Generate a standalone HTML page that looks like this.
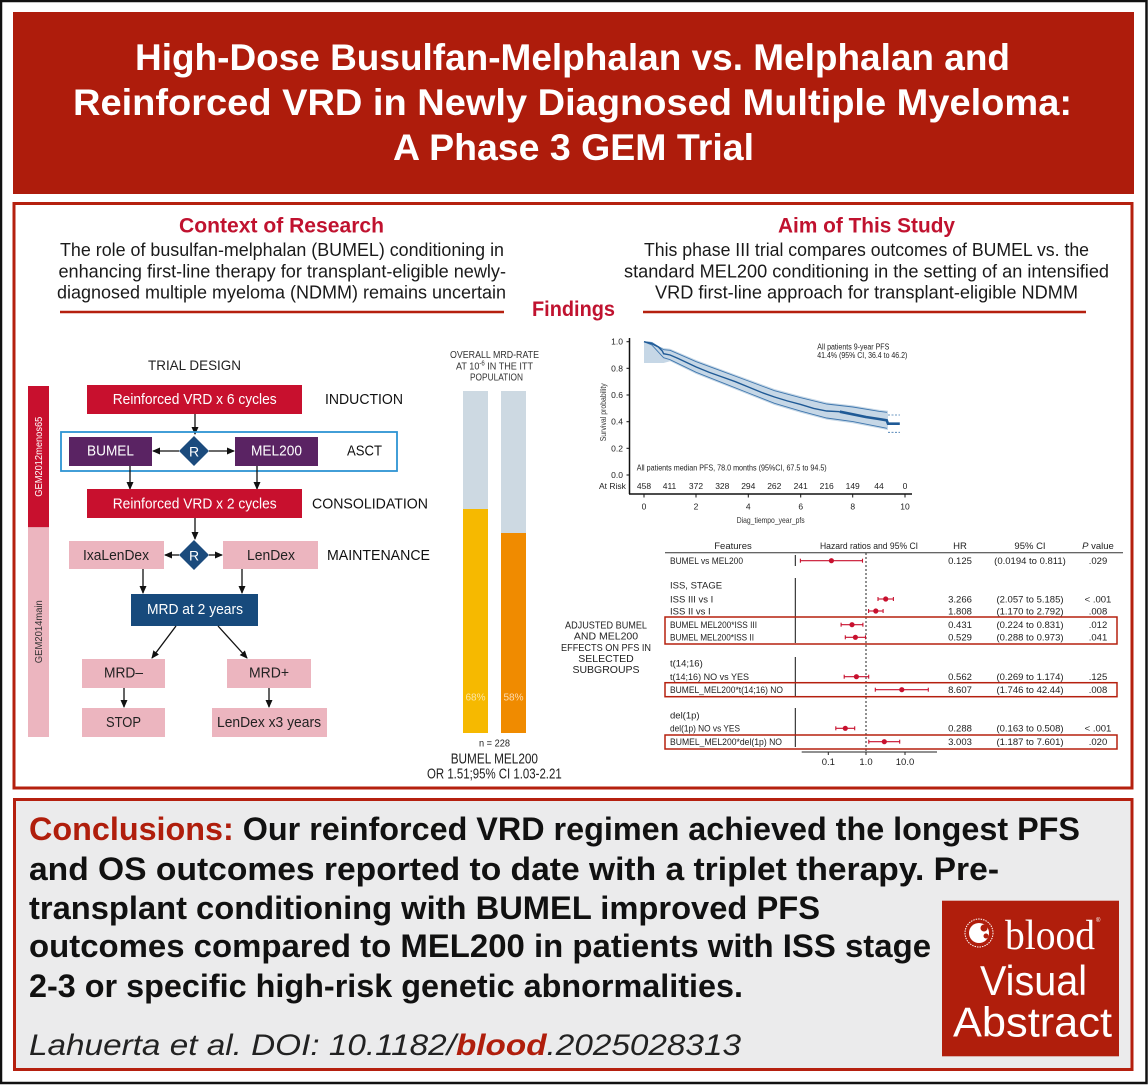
<!DOCTYPE html>
<html><head><meta charset="utf-8"><style>
html,body{margin:0;padding:0;background:#fff;}
svg{display:block;}
text{font-family:"Liberation Sans",sans-serif;}
</style></head><body>
<svg width="1148" height="1085" viewBox="0 0 1148 1085" xmlns="http://www.w3.org/2000/svg">
<rect x="0" y="0" width="1148" height="1085" fill="#fff"/>
<rect x="1" y="1" width="1145.5" height="1082" fill="none" stroke="#111" stroke-width="2.5"/>

<!-- Header -->
<rect x="13" y="12" width="1121" height="182" fill="#ae1c0c"/>
<g fill="#fff" font-weight="bold" font-size="37" lengthAdjust="spacingAndGlyphs">
<text x="135" y="70" textLength="875" lengthAdjust="spacingAndGlyphs">High-Dose Busulfan-Melphalan vs. Melphalan and</text>
<text x="73" y="115" textLength="999" lengthAdjust="spacingAndGlyphs">Reinforced VRD in Newly Diagnosed Multiple Myeloma:</text>
<text x="393" y="160" textLength="361" lengthAdjust="spacingAndGlyphs">A Phase 3 GEM Trial</text>
</g>

<!-- Findings box -->
<rect x="14" y="203.5" width="1118" height="584.5" fill="none" stroke="#b5200f" stroke-width="3"/>

<text x="179" y="232.7" font-size="21" font-weight="bold" fill="#c0122f" textLength="205" lengthAdjust="spacingAndGlyphs">Context of Research</text>
<text x="778" y="232.7" font-size="21" font-weight="bold" fill="#c0122f" textLength="177" lengthAdjust="spacingAndGlyphs">Aim of This Study</text>
<g font-size="18" fill="#1a1a1a">
<text x="60" y="256" textLength="444" lengthAdjust="spacingAndGlyphs">The role of busulfan-melphalan (BUMEL) conditioning in</text>
<text x="58.5" y="277.3" textLength="447.5" lengthAdjust="spacingAndGlyphs">enhancing first-line therapy for transplant-eligible newly-</text>
<text x="57" y="298.3" textLength="449" lengthAdjust="spacingAndGlyphs">diagnosed multiple myeloma (NDMM) remains uncertain</text>
<text x="644" y="256" textLength="445" lengthAdjust="spacingAndGlyphs">This phase III trial compares outcomes of BUMEL vs. the</text>
<text x="624" y="277.3" textLength="485" lengthAdjust="spacingAndGlyphs">standard MEL200 conditioning in the setting of an intensified</text>
<text x="655" y="298.3" textLength="423" lengthAdjust="spacingAndGlyphs">VRD first-line approach for transplant-eligible NDMM</text>
</g>
<text x="532" y="316" font-size="21" font-weight="bold" fill="#c0122f" textLength="83" lengthAdjust="spacingAndGlyphs">Findings</text>
<line x1="60" y1="312" x2="504" y2="312" stroke="#b5200f" stroke-width="2.5"/>
<line x1="643" y1="312" x2="1086" y2="312" stroke="#b5200f" stroke-width="2.5"/>

<!-- Trial design -->
<defs>
<marker id="ah" markerWidth="8" markerHeight="8" refX="7" refY="4" orient="auto" markerUnits="userSpaceOnUse">
<path d="M0,0.5 L8,4 L0,7.5 Z" fill="#111"/>
</marker>
</defs>
<text x="148" y="370" font-size="14" fill="#222" textLength="93" lengthAdjust="spacingAndGlyphs">TRIAL DESIGN</text>

<rect x="28" y="386" width="21" height="141.3" fill="#c8102e"/>
<rect x="28" y="527.3" width="21" height="209.7" fill="#ecb5bf"/>
<text transform="translate(42,456.7) rotate(-90)" text-anchor="middle" font-size="10" fill="#fff" textLength="80" lengthAdjust="spacingAndGlyphs">GEM2012menos65</text>
<text transform="translate(42,631.7) rotate(-90)" text-anchor="middle" font-size="10" fill="#333" textLength="63" lengthAdjust="spacingAndGlyphs">GEM2014main</text>

<rect x="87" y="385" width="215" height="29" fill="#c8102e"/>
<text x="112.7" y="404" font-size="15" fill="#fff" textLength="164" lengthAdjust="spacingAndGlyphs">Reinforced VRD x 6 cycles</text>
<text x="325" y="404" font-size="14.5" fill="#111" textLength="78" lengthAdjust="spacingAndGlyphs">INDUCTION</text>
<line x1="195" y1="414" x2="195" y2="434" stroke="#111" stroke-width="1.3" marker-end="url(#ah)"/>

<rect x="61" y="432" width="336" height="39" fill="none" stroke="#2e93d3" stroke-width="1.8"/>
<rect x="69" y="437" width="83" height="29" fill="#5a2363"/>
<text x="87" y="455.7" font-size="15" fill="#fff" textLength="47" lengthAdjust="spacingAndGlyphs">BUMEL</text>
<rect x="235" y="437" width="83" height="29" fill="#5a2363"/>
<text x="251" y="455.7" font-size="15" fill="#fff" textLength="51" lengthAdjust="spacingAndGlyphs">MEL200</text>
<line x1="179" y1="451" x2="153" y2="451" stroke="#111" stroke-width="1.3" marker-end="url(#ah)"/>
<line x1="209" y1="451" x2="234" y2="451" stroke="#111" stroke-width="1.3" marker-end="url(#ah)"/>
<path d="M194,436 L209,451 L194,466 L179,451 Z" fill="#1b4b7d"/>
<text x="194" y="456.5" text-anchor="middle" font-size="14" fill="#fff">R</text>
<text x="347" y="455.7" font-size="14.5" fill="#111" textLength="35" lengthAdjust="spacingAndGlyphs">ASCT</text>
<line x1="130" y1="466" x2="130" y2="489" stroke="#111" stroke-width="1.3" marker-end="url(#ah)"/>
<line x1="257" y1="466" x2="257" y2="489" stroke="#111" stroke-width="1.3" marker-end="url(#ah)"/>

<rect x="87" y="489" width="215" height="29" fill="#c8102e"/>
<text x="112.7" y="508.3" font-size="15" fill="#fff" textLength="164" lengthAdjust="spacingAndGlyphs">Reinforced VRD x 2 cycles</text>
<text x="312" y="508.3" font-size="14.5" fill="#111" textLength="116" lengthAdjust="spacingAndGlyphs">CONSOLIDATION</text>
<line x1="195" y1="518" x2="195" y2="539" stroke="#111" stroke-width="1.3" marker-end="url(#ah)"/>

<rect x="69" y="541" width="95" height="28" fill="#ecb5bf"/>
<text x="83" y="560" font-size="15" fill="#222" textLength="66" lengthAdjust="spacingAndGlyphs">IxaLenDex</text>
<rect x="223" y="541" width="95" height="28" fill="#ecb5bf"/>
<text x="247" y="560" font-size="15" fill="#222" textLength="48" lengthAdjust="spacingAndGlyphs">LenDex</text>
<line x1="179" y1="555" x2="165" y2="555" stroke="#111" stroke-width="1.3" marker-end="url(#ah)"/>
<line x1="209" y1="555" x2="222" y2="555" stroke="#111" stroke-width="1.3" marker-end="url(#ah)"/>
<path d="M194,540 L209,555 L194,570 L179,555 Z" fill="#1b4b7d"/>
<text x="194" y="560.5" text-anchor="middle" font-size="14" fill="#fff">R</text>
<text x="327" y="560" font-size="14.5" fill="#111" textLength="103" lengthAdjust="spacingAndGlyphs">MAINTENANCE</text>
<line x1="143" y1="569" x2="143" y2="593" stroke="#111" stroke-width="1.3" marker-end="url(#ah)"/>
<line x1="242" y1="569" x2="242" y2="593" stroke="#111" stroke-width="1.3" marker-end="url(#ah)"/>

<rect x="131" y="594" width="127" height="32" fill="#174a7c"/>
<text x="147" y="614" font-size="15" fill="#fff" textLength="96" lengthAdjust="spacingAndGlyphs">MRD at 2 years</text>
<line x1="176" y1="626" x2="152" y2="658" stroke="#111" stroke-width="1.3" marker-end="url(#ah)"/>
<line x1="218" y1="626" x2="247" y2="658" stroke="#111" stroke-width="1.3" marker-end="url(#ah)"/>

<rect x="82" y="659" width="83" height="29" fill="#ecb5bf"/>
<text x="104" y="677.7" font-size="15" fill="#222" textLength="39" lengthAdjust="spacingAndGlyphs">MRD–</text>
<rect x="227" y="659" width="84" height="29" fill="#ecb5bf"/>
<text x="249" y="677.7" font-size="15" fill="#222" textLength="40" lengthAdjust="spacingAndGlyphs">MRD+</text>
<line x1="124" y1="688" x2="124" y2="707" stroke="#111" stroke-width="1.3" marker-end="url(#ah)"/>
<line x1="269" y1="688" x2="269" y2="707" stroke="#111" stroke-width="1.3" marker-end="url(#ah)"/>
<rect x="82" y="708" width="83" height="29" fill="#ecb5bf"/>
<text x="106" y="727" font-size="15" fill="#222" textLength="35" lengthAdjust="spacingAndGlyphs">STOP</text>
<rect x="212" y="708" width="115" height="29" fill="#ecb5bf"/>
<text x="217" y="727" font-size="15" fill="#222" textLength="104" lengthAdjust="spacingAndGlyphs">LenDex x3 years</text>

<!-- MRD bars -->
<g font-size="10.5" fill="#333">
<text x="450" y="358" textLength="89" lengthAdjust="spacingAndGlyphs">OVERALL MRD-RATE</text>
<text x="456" y="369.3" textLength="77" lengthAdjust="spacingAndGlyphs">AT 10<tspan font-size="7" dy="-4">-6</tspan><tspan dy="4"> IN THE ITT</tspan></text>
<text x="470" y="380.7" textLength="53" lengthAdjust="spacingAndGlyphs">POPULATION</text>
</g>
<rect x="463" y="391" width="25" height="342" fill="#cdd9e2"/>
<rect x="463" y="509" width="25" height="224" fill="#f6b900"/>
<rect x="501" y="391" width="25" height="342" fill="#cdd9e2"/>
<rect x="501" y="533" width="25" height="200" fill="#f08b00"/>
<text x="475.5" y="700.7" text-anchor="middle" font-size="10" fill="#fde6a6">68%</text>
<text x="513.5" y="700.7" text-anchor="middle" font-size="10" fill="#fddcb0">58%</text>
<text x="479" y="746.7" font-size="10" fill="#222" textLength="31" lengthAdjust="spacingAndGlyphs">n = 228</text>
<text x="450.7" y="763.3" font-size="14.5" fill="#222" textLength="87.3" lengthAdjust="spacingAndGlyphs">BUMEL  MEL200</text>
<text x="427" y="778.3" font-size="14.5" fill="#222" textLength="134.7" lengthAdjust="spacingAndGlyphs">OR 1.51;95% CI 1.03-2.21</text>

<!-- KM plot -->
<polygon points="644,341.7 663.6,348 670.1,348.7 696.2,360 722.3,369.7 748.4,379.4 774.5,389 800.6,396 826.7,402.4 852.8,405.4 878.9,409.7 888,410.7 888,430 878.9,428.3 852.8,423.3 826.7,419.6 800.6,412.7 774.5,405 748.4,394.6 722.3,384.3 696.2,374 670.1,361.3 663.6,363 644,363" fill="#c6d7e6"/>
<polyline points="644,341.7 651.8,342.4 663.6,349.7 670.1,350.3 696.2,361.7 722.3,371.3 748.4,381 774.5,390.7 800.6,397.7 826.7,404 852.8,407 878.9,411.3 887,412.3" fill="none" stroke="#3f77ae" stroke-width="0.9"/>
<polyline points="644,341.7 651.8,345 663.6,357.7 670.1,359.7 696.2,372.3 722.3,382.7 748.4,393 774.5,403.3 800.6,411.1 826.7,418 852.8,421.6 878.9,426.7 887,428.3" fill="none" stroke="#3f77ae" stroke-width="0.9"/>
<line x1="888" y1="415" x2="900" y2="415" stroke="#3f77ae" stroke-width="0.8" stroke-dasharray="2,1.5"/>
<line x1="888" y1="432.3" x2="900" y2="432.3" stroke="#3f77ae" stroke-width="0.8" stroke-dasharray="2,1.5"/>
<polyline points="644,341.7 651.8,343.7 658.4,347 662.3,351 663.6,353.7 670.1,355 677.9,358.4 696.2,367 709.3,372.4 722.3,377 735.4,381.7 748.4,387 761.5,392.4 774.5,397 787.6,401 800.6,404.4 813.7,408.4 826.7,411 839.8,411.7" fill="none" stroke="#1f5a96" stroke-width="1.4"/>
<polyline points="839.8,411.7 852.8,414.3 865.9,417 878.9,419 886.7,420.3 888,423.7 899.8,423.7" fill="none" stroke="#1f5a96" stroke-width="2.6"/>
<line x1="629.5" y1="338" x2="629.5" y2="494" stroke="#111" stroke-width="1.5"/>
<line x1="629" y1="494" x2="912" y2="494" stroke="#111" stroke-width="1.5"/>
<g stroke="#111" stroke-width="1">
<line x1="626.5" y1="341.7" x2="629.5" y2="341.7"/><line x1="626.5" y1="368.3" x2="629.5" y2="368.3"/>
<line x1="626.5" y1="395" x2="629.5" y2="395"/><line x1="626.5" y1="421.7" x2="629.5" y2="421.7"/>
<line x1="626.5" y1="448.3" x2="629.5" y2="448.3"/><line x1="626.5" y1="475" x2="629.5" y2="475"/>
<line x1="644" y1="494" x2="644" y2="497.5"/><line x1="696" y1="494" x2="696" y2="497.5"/>
<line x1="748.3" y1="494" x2="748.3" y2="497.5"/><line x1="800.7" y1="494" x2="800.7" y2="497.5"/>
<line x1="852.7" y1="494" x2="852.7" y2="497.5"/><line x1="905" y1="494" x2="905" y2="497.5"/>
</g>
<g font-size="8.5" fill="#222" text-anchor="end">
<text x="623" y="344.7">1.0</text><text x="623" y="371.3">0.8</text><text x="623" y="398">0.6</text>
<text x="623" y="424.7">0.4</text><text x="623" y="451.3">0.2</text><text x="623" y="478">0.0</text>
</g>
<g font-size="8.5" fill="#222" text-anchor="middle">
<text x="644" y="509.7">0</text><text x="696" y="509.7">2</text><text x="748.3" y="509.7">4</text>
<text x="800.7" y="509.7">6</text><text x="852.7" y="509.7">8</text><text x="905" y="509.7">10</text>
<text x="644" y="489">458</text><text x="669.5" y="489">411</text><text x="696" y="489">372</text>
<text x="722.3" y="489">328</text><text x="748.3" y="489">294</text><text x="774.3" y="489">262</text>
<text x="800.7" y="489">241</text><text x="826.7" y="489">216</text><text x="852.7" y="489">149</text>
<text x="879" y="489">44</text><text x="905" y="489">0</text>
</g>
<text x="599" y="489" font-size="8.5" fill="#222">At Risk</text>
<text x="736.7" y="523" font-size="8.5" fill="#333" textLength="68" lengthAdjust="spacingAndGlyphs">Diag_tiempo_year_pfs</text>
<text transform="translate(606,412.3) rotate(-90)" text-anchor="middle" font-size="8.5" fill="#333" textLength="58" lengthAdjust="spacingAndGlyphs">Survival probability</text>
<text x="817.3" y="349.5" font-size="8" fill="#222" textLength="72" lengthAdjust="spacingAndGlyphs">All patients 9-year PFS</text>
<text x="817.3" y="358" font-size="8" fill="#222" textLength="90" lengthAdjust="spacingAndGlyphs">41.4% (95% CI, 36.4 to 46.2)</text>
<text x="636.7" y="470.5" font-size="8.5" fill="#222" textLength="190" lengthAdjust="spacingAndGlyphs">All patients median PFS, 78.0 months (95%CI, 67.5 to 94.5)</text>

<!-- Forest plot -->
<g font-size="9.5" fill="#222">
<text x="733" y="549" text-anchor="middle">Features</text>
<text x="820" y="549" textLength="98" lengthAdjust="spacingAndGlyphs">Hazard ratios and 95% CI</text>
<text x="960" y="549" text-anchor="middle">HR</text>
<text x="1030" y="549" text-anchor="middle">95% CI</text>
<text x="1098" y="549" text-anchor="middle"><tspan font-style="italic">P</tspan> value</text>
</g>
<line x1="665" y1="552.7" x2="1123" y2="552.7" stroke="#333" stroke-width="1"/>
<g stroke="#111" stroke-width="1">
<line x1="795.3" y1="555" x2="795.3" y2="566"/>
<line x1="795.3" y1="578" x2="795.3" y2="643"/>
<line x1="795.3" y1="657" x2="795.3" y2="696"/>
<line x1="795.3" y1="708" x2="795.3" y2="747"/>
</g>
<line x1="866" y1="553" x2="866" y2="752" stroke="#222" stroke-width="1" stroke-dasharray="2,2"/>
<line x1="801.7" y1="752" x2="937" y2="752" stroke="#222" stroke-width="1"/>
<g stroke="#222" stroke-width="1">
<line x1="828.3" y1="752" x2="828.3" y2="755"/><line x1="866" y1="752" x2="866" y2="755"/><line x1="905" y1="752" x2="905" y2="755"/>
</g>
<g font-size="9.5" fill="#222" text-anchor="middle">
<text x="828.3" y="765">0.1</text><text x="866" y="765">1.0</text><text x="905" y="765">10.0</text>
</g>
<g stroke="#b5200f" stroke-width="1.5" fill="none">
<rect x="665" y="617" width="452" height="27"/>
<rect x="665" y="682.7" width="452" height="14"/>
<rect x="665" y="735" width="452" height="14"/>
</g>
<g font-size="9.5" fill="#222">
<text x="670" y="564" textLength="73" lengthAdjust="spacingAndGlyphs">BUMEL vs MEL200</text>
<text x="670" y="588.3">ISS, STAGE</text>
<text x="670" y="602.3">ISS III vs I</text>
<text x="670" y="614.3">ISS II vs I</text>
<text x="670" y="628" textLength="87" lengthAdjust="spacingAndGlyphs">BUMEL MEL200*ISS III</text>
<text x="670" y="640.6" textLength="84" lengthAdjust="spacingAndGlyphs">BUMEL MEL200*ISS II</text>
<text x="670" y="666.6">t(14;16)</text>
<text x="670" y="680" textLength="79" lengthAdjust="spacingAndGlyphs">t(14;16) NO vs YES</text>
<text x="670" y="693" textLength="113" lengthAdjust="spacingAndGlyphs">BUMEL_MEL200*t(14;16) NO</text>
<text x="670" y="718.3">del(1p)</text>
<text x="670" y="731.6" textLength="70" lengthAdjust="spacingAndGlyphs">del(1p) NO vs YES</text>
<text x="670" y="745" textLength="112" lengthAdjust="spacingAndGlyphs">BUMEL_MEL200*del(1p) NO</text>
</g>
<g font-size="9.5" fill="#222" text-anchor="middle">
<text x="960" y="564">0.125</text><text x="1030" y="564">(0.0194 to 0.811)</text><text x="1098" y="564">.029</text>
<text x="960" y="602.3">3.266</text><text x="1030" y="602.3">(2.057 to 5.185)</text><text x="1098" y="602.3">&lt; .001</text>
<text x="960" y="614.3">1.808</text><text x="1030" y="614.3">(1.170 to 2.792)</text><text x="1098" y="614.3">.008</text>
<text x="960" y="628">0.431</text><text x="1030" y="628">(0.224 to 0.831)</text><text x="1098" y="628">.012</text>
<text x="960" y="640.6">0.529</text><text x="1030" y="640.6">(0.288 to 0.973)</text><text x="1098" y="640.6">.041</text>
<text x="960" y="680">0.562</text><text x="1030" y="680">(0.269 to 1.174)</text><text x="1098" y="680">.125</text>
<text x="960" y="693">8.607</text><text x="1030" y="693">(1.746 to 42.44)</text><text x="1098" y="693">.008</text>
<text x="960" y="731.6">0.288</text><text x="1030" y="731.6">(0.163 to 0.508)</text><text x="1098" y="731.6">&lt; .001</text>
<text x="960" y="745">3.003</text><text x="1030" y="745">(1.187 to 7.601)</text><text x="1098" y="745">.020</text>
</g>
<g stroke="#c8102e" stroke-width="1.1" fill="#c8102e">
<line x1="800.4" y1="560.7" x2="862.5" y2="560.7"/><line x1="800.4" y1="558.7" x2="800.4" y2="562.7"/><line x1="862.5" y1="558.7" x2="862.5" y2="562.7"/><circle cx="831.4" cy="560.7" r="2.6" stroke="none"/>
<line x1="878" y1="599" x2="893.4" y2="599"/><line x1="878" y1="597" x2="878" y2="601"/><line x1="893.4" y1="597" x2="893.4" y2="601"/><circle cx="885.7" cy="599" r="2.6" stroke="none"/>
<line x1="868.6" y1="611" x2="883.1" y2="611"/><line x1="868.6" y1="609" x2="868.6" y2="613"/><line x1="883.1" y1="609" x2="883.1" y2="613"/><circle cx="875.8" cy="611" r="2.6" stroke="none"/>
<line x1="841.1" y1="624.7" x2="862.9" y2="624.7"/><line x1="841.1" y1="622.7" x2="841.1" y2="626.7"/><line x1="862.9" y1="622.7" x2="862.9" y2="626.7"/><circle cx="852" cy="624.7" r="2.6" stroke="none"/>
<line x1="845.3" y1="637.3" x2="865.5" y2="637.3"/><line x1="845.3" y1="635.3" x2="845.3" y2="639.3"/><line x1="865.5" y1="635.3" x2="865.5" y2="639.3"/><circle cx="855.4" cy="637.3" r="2.6" stroke="none"/>
<line x1="844.2" y1="676.7" x2="868.7" y2="676.7"/><line x1="844.2" y1="674.7" x2="844.2" y2="678.7"/><line x1="868.7" y1="674.7" x2="868.7" y2="678.7"/><circle cx="856.4" cy="676.7" r="2.6" stroke="none"/>
<line x1="875.3" y1="689.7" x2="928.3" y2="689.7"/><line x1="875.3" y1="687.7" x2="875.3" y2="691.7"/><line x1="928.3" y1="687.7" x2="928.3" y2="691.7"/><circle cx="901.8" cy="689.7" r="2.6" stroke="none"/>
<line x1="835.8" y1="728.3" x2="854.7" y2="728.3"/><line x1="835.8" y1="726.3" x2="835.8" y2="730.3"/><line x1="854.7" y1="726.3" x2="854.7" y2="730.3"/><circle cx="845.3" cy="728.3" r="2.6" stroke="none"/>
<line x1="868.8" y1="741.7" x2="899.7" y2="741.7"/><line x1="868.8" y1="739.7" x2="868.8" y2="743.7"/><line x1="899.7" y1="739.7" x2="899.7" y2="743.7"/><circle cx="884.3" cy="741.7" r="2.6" stroke="none"/>
</g>
<g font-size="10.5" fill="#222" text-anchor="middle">
<text x="606" y="628.5" textLength="82" lengthAdjust="spacingAndGlyphs">ADJUSTED BUMEL</text>
<text x="606" y="639.5">AND MEL200</text>
<text x="606" y="650.8" textLength="90" lengthAdjust="spacingAndGlyphs">EFFECTS ON PFS IN</text>
<text x="606" y="662">SELECTED</text>
<text x="606" y="673">SUBGROUPS</text>
</g>

<!-- Conclusions -->
<rect x="14.5" y="799.5" width="1117.5" height="270" fill="#ebebec" stroke="#b5200f" stroke-width="3"/>
<g font-size="32" font-weight="bold" fill="#111">
<text x="29" y="840" textLength="1051" lengthAdjust="spacingAndGlyphs"><tspan fill="#b01e0c">Conclusions:</tspan> Our reinforced VRD regimen achieved the longest PFS</text>
<text x="29" y="880" textLength="970" lengthAdjust="spacingAndGlyphs">and OS outcomes reported to date with a triplet therapy. Pre-</text>
<text x="29" y="919" textLength="791" lengthAdjust="spacingAndGlyphs">transplant conditioning with BUMEL improved PFS</text>
<text x="29" y="957" textLength="902" lengthAdjust="spacingAndGlyphs">outcomes compared to MEL200 in patients with ISS stage</text>
<text x="29" y="997" textLength="714" lengthAdjust="spacingAndGlyphs">2-3 or specific high-risk genetic abnormalities.</text>
</g>
<text x="29" y="1055" font-size="30" font-style="italic" fill="#222" textLength="712" lengthAdjust="spacingAndGlyphs">Lahuerta et al. DOI: 10.1182/<tspan font-weight="bold" fill="#b01e0c">blood</tspan>.2025028313</text>

<!-- blood logo -->
<rect x="942" y="900.7" width="177" height="155.6" fill="#b01e0c"/>
<circle cx="979" cy="933" r="14" fill="none" stroke="#fff" stroke-width="1" stroke-dasharray="1.5,1"/>
<circle cx="979" cy="933" r="10" fill="#fff"/>
<circle cx="984" cy="928" r="3.5" fill="#b01e0c"/>
<circle cx="986" cy="936" r="2.5" fill="#b01e0c"/>
<text x="1005" y="949" font-family="Liberation Serif" font-size="42" fill="#fff" textLength="90" lengthAdjust="spacingAndGlyphs" style="font-family:'Liberation Serif',serif">blood</text>
<text x="1096" y="922" font-size="6" fill="#fff">®</text>
<text x="980" y="995" font-size="42" fill="#fff" textLength="107" lengthAdjust="spacingAndGlyphs">Visual</text>
<text x="953" y="1036.7" font-size="42" fill="#fff" textLength="159" lengthAdjust="spacingAndGlyphs">Abstract</text>
</svg>
</body></html>
